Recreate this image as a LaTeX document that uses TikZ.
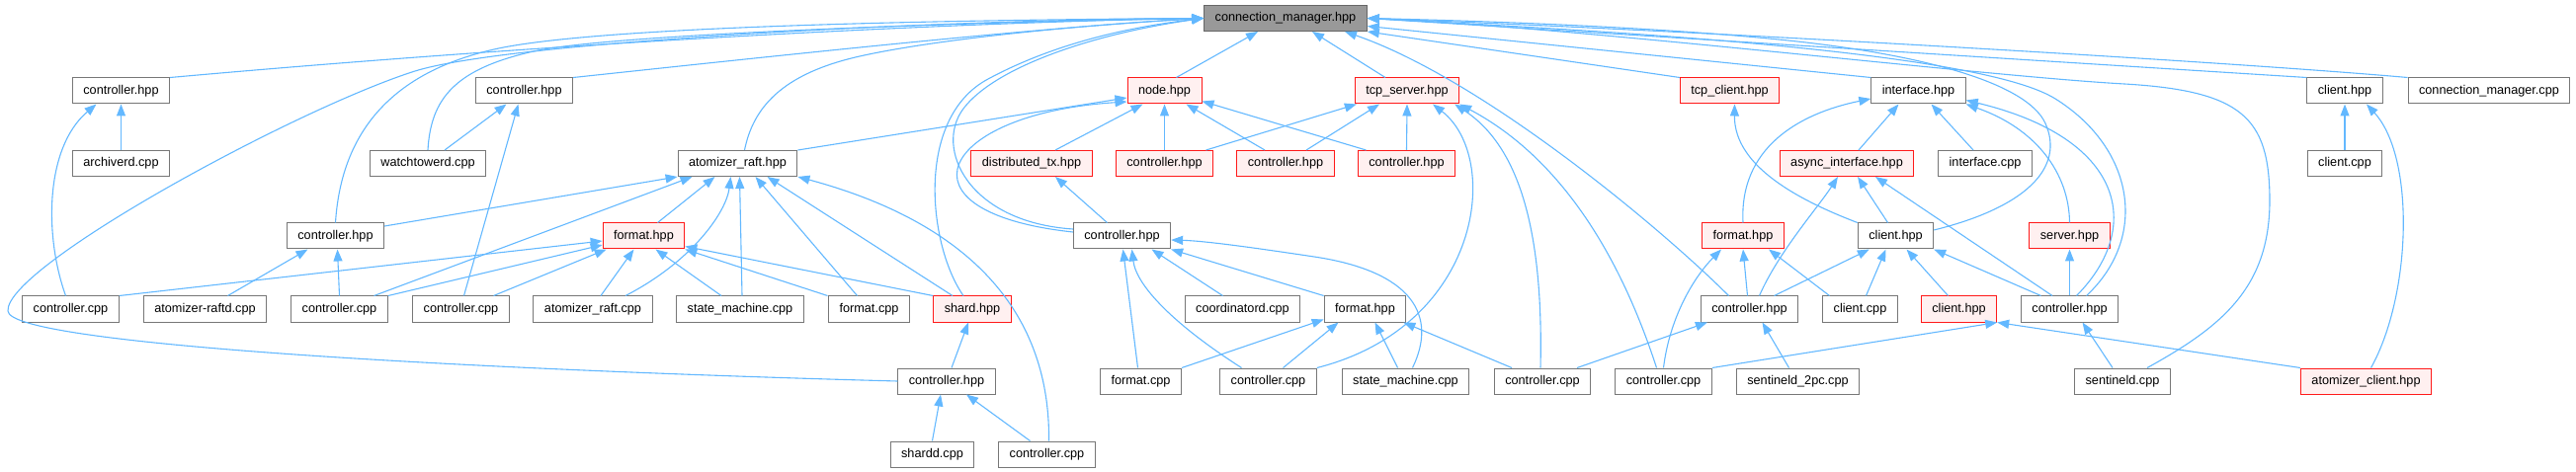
\documentclass[tikz,border=0pt]{standalone}
\usepackage{fontspec}
\setmainfont{Liberation Sans}
\usetikzlibrary{arrows.meta}
\definecolor{edgecol}{HTML}{63B8FF}
\definecolor{boxgray}{HTML}{777777}
\definecolor{pinkfill}{HTML}{FFF0F0}
\definecolor{rootfill}{HTML}{999999}
\definecolor{rootdraw}{HTML}{666666}
\definecolor{redline}{HTML}{FF1A1A}
\tikzset{
  box/.style={draw=boxgray, line width=1pt, fill=white, minimum height=26pt,
    inner xsep=11pt, inner ysep=0pt, text height=9.3pt, text depth=2.7pt,
    font=\fontsize{12.7}{15}\selectfont},
  redbox/.style={box, draw=redline, fill=pinkfill},
  rootbox/.style={box, draw=rootdraw, fill=rootfill},
  edge/.style={draw=edgecol, line width=1.1pt, -{Triangle[length=12pt,width=9pt]}}
}
\begin{document}
\begin{tikzpicture}[x=1pt,y=-1pt]
\useasboundingbox (0,0) rectangle (2607,478);
% row 0
\node[rootbox] (cm) at (1301,18.5) {connection\_manager.hpp};
% row 1
\node[box] (c1) at (122.5,92) {controller.hpp};
\node[box] (c2) at (530.5,92) {controller.hpp};
\node[redbox] (nodeh) at (1178.5,92) {node.hpp};
\node[redbox] (tcps) at (1424,92) {tcp\_server.hpp};
\node[redbox] (tcpc) at (1750.5,92) {tcp\_client.hpp};
\node[box] (iface) at (1941.5,92) {interface.hpp};
\node[box] (clih) at (2373,92) {client.hpp};
\node[box] (cmcpp) at (2519,92) {connection\_manager.cpp};
% row 2
\node[box] (arch) at (122.5,165.5) {archiverd.cpp};
\node[box] (watch) at (433,165.5) {watchtowerd.cpp};
\node[box] (araft) at (746.5,165.5) {atomizer\_raft.hpp};
\node[redbox] (dtx) at (1044,165.5) {distributed\_tx.hpp};
\node[redbox] (n1) at (1178.5,165.5) {controller.hpp};
\node[redbox] (n2) at (1301,165.5) {controller.hpp};
\node[redbox] (n3) at (1423.5,165.5) {controller.hpp};
\node[redbox] (async) at (1869,165.5) {async\_interface.hpp};
\node[box] (ifcpp) at (2009,165.5) {interface.cpp};
\node[box] (clicpp) at (2373,165.5) {client.cpp};
% row 3
\node[box] (c3) at (339.5,239) {controller.hpp};
\node[redbox] (fmt1) at (651.5,239) {format.hpp};
\node[box] (c4) at (1135.5,239) {controller.hpp};
\node[redbox] (fmt3) at (1764,239) {format.hpp};
\node[box] (clih2) at (1918.5,239) {client.hpp};
\node[redbox] (server) at (2094.5,239) {server.hpp};
% row 4
\node[box] (r4a) at (71.5,313) {controller.cpp};
\node[box] (raftd) at (207.5,313) {atomizer-raftd.cpp};
\node[box] (r4b) at (343.5,313) {controller.cpp};
\node[box] (r4c) at (466.5,313) {controller.cpp};
\node[box] (arcpp) at (600,313) {atomizer\_raft.cpp};
\node[box] (sm1) at (749,313) {state\_machine.cpp};
\node[box] (fcpp1) at (879.5,313) {format.cpp};
\node[redbox] (shard) at (984,313) {shard.hpp};
\node[box] (coord) at (1257.5,313) {coordinatord.cpp};
\node[box] (fmt2) at (1381.5,313) {format.hpp};
\node[box] (r1) at (1770.5,313) {controller.hpp};
\node[box] (clicpp2) at (1882.5,313) {client.cpp};
\node[redbox] (clih3) at (1982.5,313) {client.hpp};
\node[box] (r2) at (2094.5,313) {controller.hpp};
% row 5
\node[box] (c5) at (958,386) {controller.hpp};
\node[box] (fcpp2) at (1154.5,386) {format.cpp};
\node[box] (r5a) at (1283.5,386) {controller.cpp};
\node[box] (sm2) at (1422.5,386) {state\_machine.cpp};
\node[box] (r5b) at (1561,386) {controller.cpp};
\node[box] (r5c) at (1683.5,386) {controller.cpp};
\node[box] (s2pc) at (1819.5,386) {sentineld\_2pc.cpp};
\node[box] (sentd) at (2148,386) {sentineld.cpp};
\node[redbox] (aclient) at (2394.5,386) {atomizer\_client.hpp};
% row 6
\node[box] (shardd) at (943.5,460) {shardd.cpp};
\node[box] (r6) at (1059.5,460) {controller.cpp};

% ---- edges into connection_manager.hpp
\draw[edge] (c1.north east) .. controls (600,40) and (1000,22) .. (cm.west);
\draw[edge] (c2.north east) .. controls (800,55) and (1050,28) .. (cm.west);
\draw[edge] (watch.north) .. controls (436,100) and (460,70) .. (540,52) .. controls (620,34) and (1000,22) .. (cm.west);
\draw[edge] (c3.north) .. controls (345,140) and (390,75) .. (500,50) .. controls (610,25) and (1000,20) .. (cm.west);
\draw[edge] (c5.west) .. controls (500,375) and (10,350) .. (8,315) .. controls (5,270) and (300,110) .. (420,72) .. controls (516,42) and (950,20) .. (cm.west);
\draw[edge] ([xshift=7]araft.north) .. controls (762,110) and (790,75) .. (870,57) .. controls (950,39) and (1100,25) .. (cm.west);
\draw[edge] ([xshift=-9]shard.north) .. controls (940,250) and (925,120) .. (1000,80) .. controls (1052,52) and (1120,30) .. (cm.west);
\draw[edge] ([yshift=7]c4.west) .. controls (980,225) and (945,150) .. (975,110) .. controls (1005,70) and (1100,35) .. (cm.west);
\draw[edge] ([xshift=12]nodeh.north) -- ([xshift=-28]cm.south);
\draw[edge] ([xshift=-22]tcps.north) -- ([xshift=27]cm.south);
\draw[edge] ([xshift=-21]r1.north) .. controls (1680,230) and (1500,80) .. ([xshift=60]cm.south);
\draw[edge] (tcpc.north west) -- (cm.south east);
\draw[edge] (iface.north west) -- ([yshift=-8]cm.east);
\draw[edge] ([yshift=6]clih2.east) .. controls (2050,210) and (2090,170) .. (2070,125) .. controls (2052,85) and (1950,55) .. (1800,40) .. controls (1650,25) and (1450,20) .. (cm.east);
\draw[edge] ([xshift=17]r2.north) .. controls (2175,240) and (2160,150) .. (2080,100) .. controls (2000,50) and (1600,30) .. (cm.east);
\draw[edge] ([xshift=25]sentd.north) .. controls (2250,330) and (2298,290) .. (2297,200) .. controls (2296,120) and (2270,92) .. (2150,85) .. controls (2006,77) and (1600,28) .. (cm.east);
\draw[edge] (clih.north west) -- (cm.east);
\draw[edge] (cmcpp.north west) .. controls (2250,62) and (1700,30) .. (cm.east);

% ---- left part
\draw[edge] (arch.north) -- (c1.south);
\draw[edge] ([xshift=-5]r4a.north) .. controls (45,240) and (45,150) .. ([xshift=-25]c1.south);
\draw[edge] ([xshift=17]watch.north) -- ([xshift=-18]c2.south);
\draw[edge] ([xshift=3]r4c.north) -- ([xshift=-6]c2.south);
\draw[edge] ([xshift=23]raftd.north) -- ([xshift=-28]c3.south);
\draw[edge] (r4b.north) -- ([xshift=2]c3.south);
\draw[edge] ([yshift=10]c3.east) -- (araft.south west);
\draw[edge] ([xshift=35]r4b.north) -- ([xshift=-46]araft.south);
\draw[edge] ([xshift=14]fmt1.north) -- ([xshift=-23]araft.south);
\draw[edge] ([xshift=33]arcpp.north) .. controls (700,265) and (735,215) .. ([xshift=-7]araft.south);
\draw[edge] ([xshift=2]sm1.north) -- ([xshift=2]araft.south);
\draw[edge] ([xshift=-12]fcpp1.north) -- ([xshift=18]araft.south);
\draw[edge] ([xshift=-20]shard.north) -- ([xshift=30]araft.south);
\draw[edge] ([xshift=2]r6.north) .. controls (1063,300) and (960,220) .. (araft.south east);

\draw[edge] (r4a.north east) -- ([yshift=-5]fmt1.west);
\draw[edge] (r4b.north east) -- ([yshift=-9]fmt1.west);
\draw[edge] ([xshift=33]r4c.north) -- ([xshift=4]fmt1.south west);
\draw[edge] ([xshift=8]arcpp.north) -- ([xshift=-10]fmt1.south);
\draw[edge] ([xshift=-19]sm1.north) -- ([xshift=12]fmt1.south);
\draw[edge] ([xshift=-42]fcpp1.north) -- (fmt1.south east);
\draw[edge] (shard.north west) -- ([yshift=3]fmt1.south east);

% ---- node.hpp / tcp_server.hpp
\draw[edge] (araft.north east) -- ([yshift=-7]nodeh.west);
\draw[edge] ([yshift=4]c4.west) .. controls (900,215) and (950,115) .. ([yshift=-11]nodeh.west);
\draw[edge] ([xshift=24]dtx.north) -- ([xshift=-22]nodeh.south);
\draw[edge] (n1.north) -- (nodeh.south);
\draw[edge] ([xshift=-21]n2.north) -- ([xshift=22]nodeh.south);
\draw[edge] ([xshift=-41]n3.north) -- ([yshift=3]nodeh.south east);

\draw[edge] ([xshift=42]n1.north) -- ([xshift=2]tcps.south west);
\draw[edge] ([xshift=21]n2.north) -- ([xshift=-28]tcps.south);
\draw[edge] (n3.north) -- (tcps.south);
\draw[edge] (r5a.north east) .. controls (1500,330) and (1520,160) .. ([xshift=26]tcps.south);
\draw[edge] ([xshift=-2]r5b.north) .. controls (1562,240) and (1540,150) .. ([xshift=-5]tcps.south east);
\draw[edge] ([xshift=-7]r5c.north) .. controls (1640,260) and (1580,160) .. (tcps.south east);

% ---- middle controller.hpp and format.hpp
\draw[edge] ([xshift=-3]fcpp2.north) -- ([xshift=1]c4.south);
\draw[edge] ([xshift=-27]r5a.north) .. controls (1190,330) and (1150,290) .. ([xshift=10]c4.south);
\draw[edge] ([xshift=-20]coord.north) -- ([xshift=30]c4.south);
\draw[edge] (fmt2.north west) -- (c4.south east);
\draw[edge] ([xshift=7]sm2.north) .. controls (1455,320) and (1430,275) .. (1330,260) .. controls (1270,251) and (1220,244) .. ([yshift=-4]c4.east);

\draw[edge] (fcpp2.north east) -- ([yshift=3]fmt2.south west);
\draw[edge] ([xshift=15]r5a.north) -- ([xshift=-27]fmt2.south);
\draw[edge] ([xshift=-8]sm2.north) -- ([xshift=10]fmt2.south);
\draw[edge] ([xshift=-31]r5b.north) -- ([xshift=-3]fmt2.south east);

\draw[edge] ([xshift=-15]c4.north) -- ([xshift=24]dtx.south);
\draw[edge] ([xshift=5]c5.north) -- ([xshift=-4]shard.south);
\draw[edge] (shardd.north) -- ([xshift=-6]c5.south);
\draw[edge] ([xshift=-17]r6.north) -- ([xshift=20]c5.south);

% ---- right part
\draw[edge] (clih2.north west) .. controls (1800,195) and (1755,160) .. ([xshift=5]tcpc.south);
\draw[edge] (fmt3.north) .. controls (1760,150) and (1820,115) .. ([yshift=-8]iface.west);
\draw[edge] ([xshift=12]async.north) -- ([xshift=-20]iface.south);
\draw[edge] ([xshift=-12]ifcpp.north) -- ([xshift=13]iface.south);
\draw[edge] (server.north) .. controls (2094,175) and (2060,130) .. (iface.south east);
\draw[edge] ([xshift=7]r2.north) .. controls (2170,230) and (2150,140) .. ([yshift=4]iface.south east);

\draw[edge] ([xshift=10]r1.north) .. controls (1800,255) and (1840,210) .. ([xshift=-9]async.south);
\draw[edge] ([xshift=-8]clih2.north) -- ([xshift=11]async.south);
\draw[edge] ([xshift=-17.5]r2.north) -- ([xshift=29]async.south);

\draw[edge] (clicpp.north) -- (clih.south);
\draw[edge] ([xshift=5]aclient.north) .. controls (2440,300) and (2445,160) .. ([xshift=22]clih.south);

\draw[edge] ([xshift=-2]r1.north) -- (fmt3.south);
\draw[edge] ([xshift=-31]clicpp2.north) -- ([xshift=26]fmt3.south);
\draw[edge] (r5c.north) .. controls (1690,320) and (1715,280) .. ([xshift=-22]fmt3.south);

\draw[edge] ([xshift=25]r1.north) -- ([xshift=12]clih2.south west);
\draw[edge] ([xshift=6]clicpp2.north) -- ([xshift=-10]clih2.south);
\draw[edge] ([xshift=-11]clih3.north) -- ([xshift=11]clih2.south);
\draw[edge] ([xshift=-29]r2.north) -- (clih2.south east);

\draw[edge] (r2.north) -- (server.south);
\draw[edge] ([xshift=35]r5b.north) -- ([xshift=7]r1.south west);
\draw[edge] ([xshift=-9]s2pc.north) -- ([xshift=13]r1.south);
\draw[edge] ([xshift=-10]sentd.north) -- ([xshift=13]r2.south);
\draw[edge] (r5c.north east) -- (clih3.south east);
\draw[edge] (aclient.north west) -- (clih3.south east);
\end{tikzpicture}
\end{document}
